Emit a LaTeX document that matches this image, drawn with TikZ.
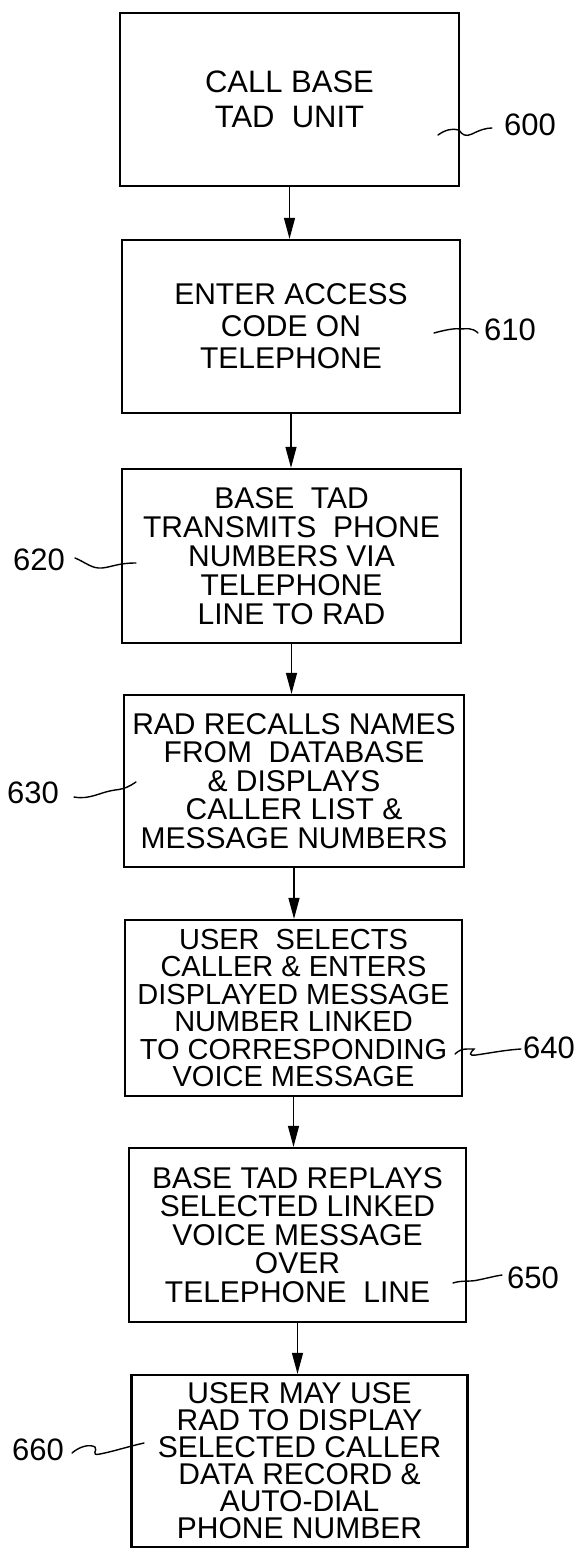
\documentclass[tikz,border=0pt]{standalone}
\usepackage{fontspec}
\setmainfont{Liberation Sans}
\usetikzlibrary{arrows.meta}
\begin{document}
\begin{tikzpicture}[x=1pt,y=-1pt,
  stepbox/.style={draw=black,line width=2.3pt,rectangle,inner sep=0pt,align=center,
    minimum width=#1},
  stepbox/.default=338pt,
  flow/.style={line width=1.3pt,-{Triangle[length=21pt,width=11pt]}},
  leader/.style={line width=1.4pt,line cap=round},
  reflabel/.style={inner sep=0pt,font=\fontsize{31}{31}\selectfont}
]
\useasboundingbox (0,0) rectangle (588,1549);

\node[stepbox=339pt,minimum height=173pt,font=\fontsize{31}{35}\selectfont] (b600) at (289.5,99.5)
  {CALL BASE\\TAD\ \ UNIT};
\node[stepbox=338pt,minimum height=173pt,font=\fontsize{30}{32}\selectfont] (b610) at (291,326.5)
  {ENTER ACCESS\\CODE ON\\TELEPHONE};
\node[stepbox=339pt,minimum height=174pt,font=\fontsize{30}{29}\selectfont] (b620) at (291.5,556)
  {BASE\ \ TAD\\TRANSMITS\ \ PHONE\\NUMBERS VIA\\TELEPHONE\\LINE TO RAD};
\node[stepbox=340pt,minimum height=172pt,font=\fontsize{30}{28.5}\selectfont] (b630) at (294,781)
  {RAD RECALLS NAMES\\FROM\ \ DATABASE\\\& DISPLAYS\\CALLER LIST \&\\MESSAGE NUMBERS};
\node[stepbox=337pt,minimum height=176pt,font=\fontsize{29}{27.5}\selectfont] (b640) at (293.5,1008)
  {USER\ \ SELECTS\\CALLER \& ENTERS\\DISPLAYED MESSAGE\\NUMBER LINKED\\TO CORRESPONDING\\VOICE MESSAGE};
\path (b640.north west) ++(0,0);
\node[stepbox=337pt,minimum height=174pt,font=\fontsize{30}{28.5}\selectfont] (b650) at (297.5,1235)
  {BASE TAD REPLAYS\\SELECTED LINKED\\VOICE MESSAGE\\OVER\\TELEPHONE\ \ LINE};
\node[stepbox=336pt,minimum height=172pt,font=\fontsize{30}{27}\selectfont] (b660) at (299.5,1461)
  {USER MAY USE\\RAD TO DISPLAY\\SELECTED CALLER\\DATA RECORD \&\\AUTO-DIAL\\PHONE NUMBER};

\draw[flow] (b600.south) -- (b600.south |- b610.north);
\draw[flow] (b610.south) -- (b610.south |- b620.north);
\draw[flow] (b620.south) -- (b620.south |- b630.north);
\draw[flow] (b630.south) -- (b630.south |- b640.north);
\draw[flow] (b640.south) -- (b640.south |- b650.north);
\draw[flow] (b650.south) -- (b650.south |- b660.north);

% reference labels
\node[reflabel,anchor=west] (l600) at (504,125) {600};
\node[reflabel,anchor=west] (l610) at (484,330) {610};
\node[reflabel,anchor=east] (l620) at (65,560) {620};
\node[reflabel,anchor=east] (l630) at (59,793) {630};
\node[reflabel,anchor=west] (l640) at (523,1048) {640};
\node[reflabel,anchor=west] (l650) at (507,1278) {650};
\node[reflabel,anchor=east] (l660) at (64,1450) {660};

% leaders
\draw[leader] ([xshift=-12pt,yshift=-3pt]l600.west) .. controls (486,128) and (480,130) .. (472,134)
  .. controls (466,137) and (462,135) .. (459,130) .. controls (452,128) and (445,130) .. (438,135);
\draw[leader] ([xshift=-6pt,yshift=-3pt]l610.west) .. controls (472,327) and (466,329) .. (460,329)
  .. controls (455,328) and (445,330) .. (434,333);
\draw[leader] ([xshift=10pt,yshift=2pt]l620.east) .. controls (85,562) and (92,569) .. (102,568)
  .. controls (112,567) and (118,563) .. (136,563);
\draw[leader] ([xshift=15pt,yshift=-4pt]l630.east) .. controls (90,800) and (100,792) .. (115,790)
  .. controls (125,789) and (130,786) .. (136,782);
\draw[leader] ([xshift=-2pt,yshift=-1pt]l640.west) .. controls (505,1050) and (490,1053) .. (476,1055)
  .. controls (468,1056) and (470,1053) .. (474,1049) -- (467,1049)
  .. controls (463,1049) and (459,1050) .. (455,1054);
\draw[leader] ([xshift=-5pt,yshift=3pt]l650.west) .. controls (495,1276) and (488,1278) .. (478,1280)
  .. controls (470,1282) and (462,1280) .. (453,1283);
\draw[leader] ([xshift=8pt,yshift=-3pt]l660.east) .. controls (80,1446) and (90,1444) .. (95,1447)
  .. controls (98,1450) and (90,1456) .. (100,1454) .. controls (115,1451) and (130,1446) .. (144,1443);
\end{tikzpicture}
\end{document}
